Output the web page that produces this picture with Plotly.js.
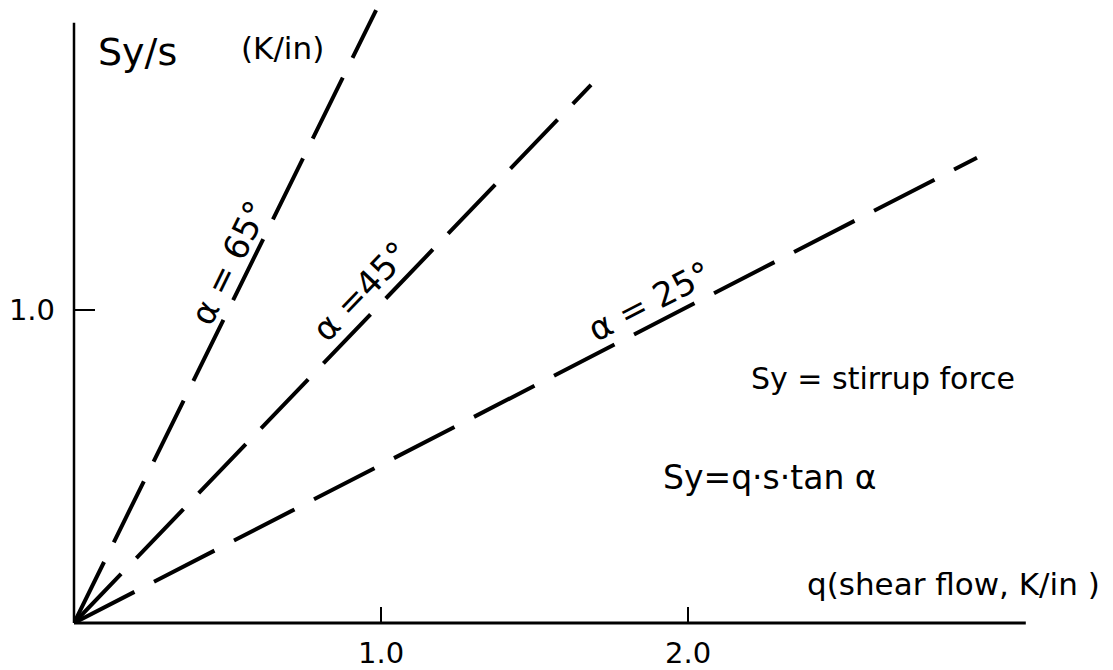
<!DOCTYPE html>
<html>
<head>
<meta charset="utf-8">
<script src="https://cdn.plot.ly/plotly-3.0.1.min.js"></script>
<style>html,body{margin:0;padding:0;background:#fff;}#chart{width:1113px;height:670px;}</style>
</head>
<body>
<div id="chart"></div>
<script>
// ---- data ----
const lineAngles = ['65°', '45°', '25°'];
const qStart = [0, 0, 0];
const syStart = [0, 0, 0];
const qEnd = [0.984, 1.684, 2.941];      // q (shear flow, K/in) at line ends
const syEnd = [1.958, 1.719, 1.486];     // Sy/s (K/in) at line ends
const angleLabelText = ['α = 65°', 'α =45°', 'α = 25°'];
const xTickVals = [1, 2];
const xTickText = ['1.0', '2.0'];
const yTickVals = [1];
const yTickText = ['1.0'];
const xAxisEnd = 3.10;
const yAxisEnd = 1.917;

// ---- layout constants ----
const W = 1113, H = 670;
const M = {l: 74, r: 0, t: 0, b: 47};
const xRange = [0, 3.384];
const yRange = [0, 1.990];
const FONT = '"DejaVu Sans", "Liberation Sans", sans-serif';
const plotW = W - M.l - M.r, plotH = H - M.t - M.b;
const pxPerX = plotW / (xRange[1] - xRange[0]);
const pxPerY = plotH / (yRange[1] - yRange[0]);

const traces = lineAngles.map((a, i) => ({
  type: 'scatter', mode: 'lines',
  x: [qStart[i], qEnd[i]], y: [syStart[i], syEnd[i]],
  name: 'α = ' + a,
  line: {color: '#000', width: 4, dash: '68px,22px'},
  hoverinfo: 'skip'
}));

// label placements (layout positions in data units)
const labelPos = [[0.505, 1.150], [0.935, 1.060], [1.875, 1.030]];
const annotations = angleLabelText.map((t, i) => ({
  xref: 'x', yref: 'y', x: labelPos[i][0], y: labelPos[i][1],
  text: t, showarrow: false,
  textangle: -Math.atan((syEnd[i] * pxPerY) / (qEnd[i] * pxPerX)) * 180 / Math.PI,
  font: {family: FONT, size: 34, color: '#000'},
  xanchor: 'center', yanchor: 'middle'
}));

const txt = (text, x, y, size, xanchor) => ({
  xref: 'x', yref: 'y', x, y, text, showarrow: false,
  font: {family: FONT, size, color: '#000'},
  xanchor: xanchor || 'center', yanchor: 'middle'
});
annotations.push(txt('Sy/s', 0.208, 1.824, 38));
annotations.push(txt('(K/in)', 0.678, 1.837, 31));
annotations.push(txt('Sy = stirrup force', 2.635, 0.780, 30));
annotations.push(txt('Sy=q·s·tan α', 2.267, 0.466, 33));
annotations.push(txt('q(shear flow, K/in )', 2.863, 0.125, 31));

const fx = v => (v - xRange[0]) / (xRange[1] - xRange[0]);
const fy = v => (v - yRange[0]) / (yRange[1] - yRange[0]);
const shapes = [
  {type: 'line', xref: 'x domain', yref: 'y domain', x0: fx(0), y0: fy(0), x1: fx(xAxisEnd), y1: fy(0),
   line: {color: '#000', width: 3}},
  {type: 'line', xref: 'x domain', yref: 'y domain', x0: fx(0), y0: fy(0), x1: fx(0), y1: fy(yAxisEnd),
   line: {color: '#000', width: 2.5}}
];

const layout = {
  width: W, height: H,
  margin: {l: M.l, r: M.r, t: M.t, b: M.b, pad: 0},
  paper_bgcolor: '#fff', plot_bgcolor: '#fff',
  showlegend: false,
  xaxis: {
    range: xRange, showgrid: false, zeroline: false, showline: false,
    ticks: 'inside', ticklen: 16, tickwidth: 2, tickcolor: '#000',
    tickvals: xTickVals, ticktext: xTickText,
    tickfont: {family: FONT, size: 29, color: '#000'},
    ticklabelstandoff: 10, fixedrange: true
  },
  yaxis: {
    range: yRange, showgrid: false, zeroline: false, showline: false,
    ticks: 'inside', ticklen: 21, tickwidth: 2, tickcolor: '#000',
    tickvals: yTickVals, ticktext: yTickText,
    tickfont: {family: FONT, size: 29, color: '#000'},
    ticklabelstandoff: 18, fixedrange: true
  },
  annotations, shapes
};

Plotly.newPlot('chart', traces, layout, {displayModeBar: false, staticPlot: true});
</script>
</body>
</html>
